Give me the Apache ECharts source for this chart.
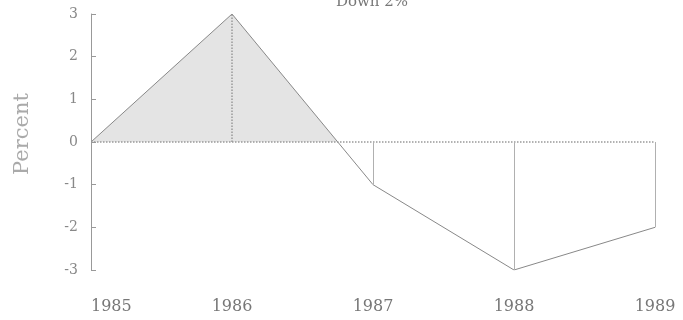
<!DOCTYPE html>
<html>
<head>
<meta charset="utf-8">
<script src="https://cdn.jsdelivr.net/npm/echarts@6/dist/echarts.min.js"></script>
<style>html,body{margin:0;padding:0;background:#fff;}#c{width:683px;height:320px;}</style>
</head>
<body>
<div id="c"></div>
<script>
const years = ['1985', '1986', '1987', '1988', '1989'];
const percentChange = [0, 3, -1, -3, -2];
const yTicks = [-3, -2, -1, 0, 1, 2, 3];
const titleText = 'Down 2%';
const yName = 'Percent';

const serif = '"DejaVu Serif", "Liberation Serif", serif';
const dropLines = years.slice(1).map((y, k) => {
  const i = k + 1;
  return [
    { coord: [y, 0], lineStyle: { type: i === 1 ? 'dotted' : 'solid', color: i === 1 ? '#999' : '#b0b0b0', width: i === 1 ? 1.5 : 1 } },
    { coord: [y, percentChange[i]] }
  ];
});

const chart = echarts.init(document.getElementById('c'));
chart.setOption({
  backgroundColor: '#fff',
  animation: false,
  title: {
    text: titleText, left: 367, top: -10, textAlign: 'center',
    textStyle: { fontFamily: serif, fontSize: 15, fontWeight: 'normal', color: '#777' }
  },
  graphic: [{
    type: 'text', x: 23, y: 134, rotation: Math.PI / 2,
    style: { text: yName, font: '21px ' + serif, fill: '#aaa', align: 'center', verticalAlign: 'middle' }
  }],
  grid: { left: 91, right: 28, top: 14, bottom: 50 },
  visualMap: {
    show: false, type: 'piecewise', seriesIndex: 0, dimension: 1,
    pieces: [{ gt: 0, lte: 10, color: '#e4e4e4' }, { gte: -10, lte: 0, color: 'rgba(255,255,255,0)' }]
  },
  xAxis: {
    type: 'category', data: years, boundaryGap: false,
    axisLine: { show: false }, axisTick: { show: false },
    axisLabel: { fontFamily: serif, fontSize: 16, color: '#777', margin: 29, alignMinLabel: 'left' }
  },
  yAxis: {
    type: 'value', min: yTicks[0], max: yTicks[yTicks.length - 1], interval: 1,
    splitLine: { show: false },
    axisLine: { show: true, onZero: false, lineStyle: { color: '#999', width: 1 } },
    axisTick: { show: true, inside: true, length: 5, lineStyle: { color: '#999' } },
    axisLabel: { fontFamily: serif, fontSize: 14, color: '#888', margin: 13 }
  },
  series: [
    {
      type: 'line', data: years.map((y, i) => [y, percentChange[i]]), symbol: 'none', silent: true,
      lineStyle: { opacity: 0, width: 0 },
      areaStyle: { opacity: 1 }, z: 1
    },
    {
      type: 'line', data: percentChange, symbol: 'none', silent: true,
      lineStyle: { color: '#888', width: 1 }, z: 3,
      markLine: {
        silent: true, symbol: 'none', label: { show: false },
        lineStyle: { color: '#999', type: 'dotted', width: 1.5 },
        data: [{ yAxis: 0 }].concat(dropLines)
      }
    }
  ]
});
</script>
</body>
</html>
